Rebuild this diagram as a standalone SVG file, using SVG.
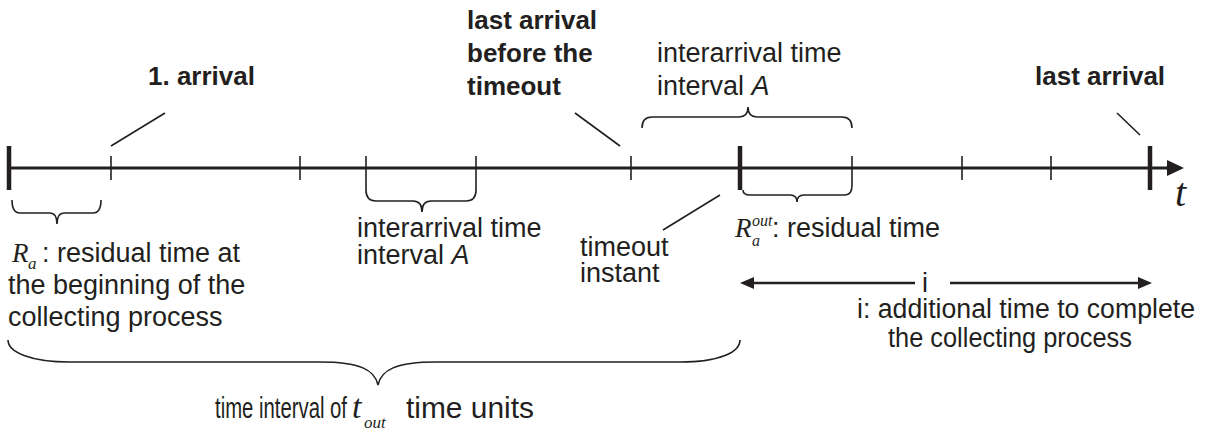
<svg xmlns="http://www.w3.org/2000/svg" width="1205" height="432" viewBox="0 0 1205 432">
  <style>
    .t { font-family: "Liberation Sans", Arial, sans-serif; font-size: 27px; fill: #231f20; }
    .b { font-weight: bold; font-size: 26px; }
    .n { font-size: 30px; }
    .m { font-family: "Liberation Serif", "Times New Roman", serif; font-style: italic; fill: #231f20; }
    .brace { fill: none; stroke: #231f20; stroke-width: 1.6; }
    .lead { stroke: #231f20; stroke-width: 1.6; }
    .tick { stroke: #231f20; stroke-width: 1.6; }
    .big { stroke: #231f20; stroke-width: 4.5; }
  </style>
  <rect width="1205" height="432" fill="#ffffff"/>

  <!-- time axis -->
  <g id="axis">
    <line x1="9" y1="168" x2="1170" y2="168" stroke="#231f20" stroke-width="3.2"/>
    <polygon points="1167,160 1184,168 1167,176" fill="#231f20"/>
    <line class="big" x1="9" y1="146" x2="9" y2="190"/>
    <line class="big" x1="740" y1="146" x2="740" y2="190"/>
    <line class="big" x1="1150" y1="146" x2="1150" y2="190"/>
    <line class="tick" x1="111" y1="156" x2="111" y2="180"/>
    <line class="tick" x1="300" y1="156" x2="300" y2="180"/>
    <line class="tick" x1="366" y1="156" x2="366" y2="180"/>
    <line class="tick" x1="476" y1="156" x2="476" y2="180"/>
    <line class="tick" x1="631" y1="156" x2="631" y2="180"/>
    <line class="tick" x1="852" y1="156" x2="852" y2="180"/>
    <line class="tick" x1="962" y1="156" x2="962" y2="180"/>
    <line class="tick" x1="1051" y1="156" x2="1051" y2="180"/>
    <text class="m" x="1175" y="206" font-size="40">t</text>
  </g>

  <!-- leader lines and interval marks -->
  <g id="connectors">
    <line class="lead" x1="111" y1="146" x2="165" y2="113"/>
    <line class="lead" x1="575" y1="113" x2="620" y2="146"/>
    <line class="lead" x1="720" y1="195" x2="663" y2="230"/>
    <line class="lead" x1="1117" y1="113" x2="1140" y2="135"/>
    <path class="brace" d="M12,200 Q12,213 20,213 L50,213 Q57,213 57,224 Q57,213 64,213 L93,213 Q101,213 101,200"/>
    <path class="brace" d="M366,180 L366,190 Q366,201 376,201 L413,201 Q422,201 422,212 Q422,201 431,201 L466,201 Q476,201 476,190 L476,180"/>
    <path class="brace" d="M642,128 Q642,117 652,117 L739,117 Q748,117 748,107 Q748,117 757,117 L842,117 Q852,117 852,128"/>
    <path class="brace" d="M743,190 Q743,195 750,195 L790,195 Q797,195 797,202 Q797,195 804,195 L845,195 Q852,195 852,185 L852,180"/>
    <path class="brace" d="M8,340 C8,352 30,362 70,362 L320,362 C360,362 375,370 378,385 C381,370 396,362 436,362 L680,362 C720,362 740,352 740,340"/>
    <line x1="750" y1="283" x2="915" y2="283" stroke="#231f20" stroke-width="2.6"/>
    <polygon points="740,283 754,277 754,289" fill="#231f20"/>
    <line x1="950" y1="283" x2="1140" y2="283" stroke="#231f20" stroke-width="2.6"/>
    <polygon points="1152,283 1138,277 1138,289" fill="#231f20"/>
  </g>

  <g id="first-arrival">
    <text class="t b" x="148" y="85">1. arrival</text>
  </g>

  <g id="last-before-timeout">
    <text class="t b" x="467" y="29">last arrival</text>
    <text class="t b" x="467" y="62">before the</text>
    <text class="t b" x="467" y="95">timeout</text>
  </g>

  <g id="interarrival-upper">
    <text class="t" x="657" y="62">interarrival time</text>
    <text class="t" x="657" y="95">interval <tspan font-style="italic">A</tspan></text>
  </g>

  <g id="last-arrival">
    <text class="t b" x="1035" y="85">last arrival</text>
  </g>

  <g id="residual-start">
    <text class="m" x="12" y="262" font-size="27">R</text>
    <text class="m" x="28" y="269" font-size="17">a</text>
    <text class="t" x="42" y="262">: residual time at</text>
    <text class="t" x="8" y="294">the beginning of the</text>
    <text class="t" x="8" y="326">collecting process</text>
  </g>

  <g id="interarrival-lower">
    <text class="t" x="357" y="237">interarrival time</text>
    <text class="t" x="357" y="264">interval <tspan font-style="italic">A</tspan></text>
  </g>

  <g id="timeout-instant">
    <text class="t" x="580" y="256">timeout</text>
    <text class="t" x="580" y="282">instant</text>
  </g>

  <g id="residual-out">
    <text class="m" x="735" y="237" font-size="27">R</text>
    <text class="m" x="752" y="226" font-size="16">out</text>
    <text class="m" x="752" y="246" font-size="16">a</text>
    <text class="t" x="772" y="237">: residual time</text>
  </g>

  <g id="additional-time">
    <text class="t" x="925" y="292" text-anchor="middle">i</text>
    <text class="t" x="857" y="318" textLength="338" lengthAdjust="spacingAndGlyphs">i: additional time to complete</text>
    <text class="t" x="888" y="347" textLength="244" lengthAdjust="spacingAndGlyphs">the collecting process</text>
  </g>

  <g id="tout-interval">
    <text class="t n" x="215" y="418" textLength="132" lengthAdjust="spacingAndGlyphs">time interval of</text>
    <text class="m" x="352" y="418" font-size="34">t</text>
    <text class="m" x="364" y="428" font-size="17">out</text>
    <text class="t n" x="406" y="418" textLength="128" lengthAdjust="spacingAndGlyphs">time units</text>
  </g>
</svg>
